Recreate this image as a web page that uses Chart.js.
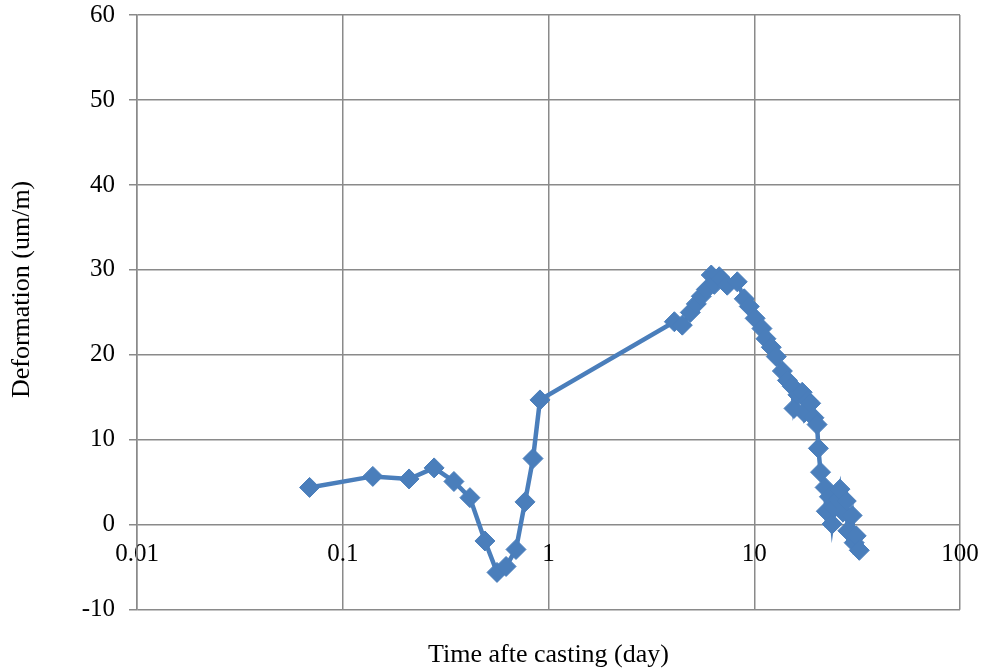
<!DOCTYPE html>
<html>
<head>
<meta charset="utf-8">
<script src="https://cdn.jsdelivr.net/npm/chart.js@4/dist/chart.umd.min.js"></script>
<style>
  html, body { margin: 0; padding: 0; background: #fff; }
  #wrap { width: 985px; height: 672px; }
</style>
</head>
<body>
<div id="wrap"><canvas id="chart" width="985" height="672"></canvas></div>
<script>
// Temps après coulage (jours) et déformation (um/m)
const days = [0.069, 0.140, 0.210, 0.278, 0.347, 0.415, 0.491, 0.562, 0.622, 0.695, 0.769, 0.841, 0.909,
  4.09, 4.47, 4.89, 5.23, 5.53, 5.85, 6.18, 6.40, 6.76, 6.92, 7.39, 8.27, 8.94, 9.46,
  10.1, 10.9, 11.4, 12.1, 12.8, 13.7, 14.5, 15.3, 15.6, 16.3, 17.1, 17.5, 18.2, 18.8, 19.5, 20.2,
  20.5, 21.0, 22.1, 22.4, 23.2, 23.9, 24.5, 25.5, 26.1, 27.0, 28.0, 28.5, 29.9, 30.6, 31.3, 32.4];
const deform = [4.4, 5.7, 5.4, 6.7, 5.1, 3.2, -1.9, -5.6, -4.9, -2.9, 2.7, 7.8, 14.7,
  23.9, 23.5, 25.0, 26.0, 26.9, 27.7, 29.4, 28.3, 29.2, 28.9, 28.2, 28.6, 26.6, 25.7,
  24.3, 23.1, 21.9, 20.9, 19.8, 18.1, 17.0, 16.3, 13.7, 15.3, 15.6, 13.2, 14.6, 14.3, 12.6, 11.8,
  9.0, 6.2, 4.4, 1.6, 3.3, 0.1, 2.0, 3.0, 4.2, 1.5, 2.8, -0.7, 1.1, -2.1, -1.3, -3.0];
const xTicks = [0.01, 0.1, 1, 10, 100];
const yMin = -10, yMax = 60, yStep = 10;

const BLUE = '#4a7ebb';
const GRID = '#8a8a8a';
const FONT = "'Liberation Serif', 'Times New Roman', serif";

const points = days.map((d, i) => ({ x: d, y: deform[i] }));

// pas de marge auto autour des axes, la zone de tracé est fixée par layout.padding
const noPad = s => { s.paddingTop = 0; s.paddingBottom = 0; s.paddingLeft = 0; s.paddingRight = 0; };

// titre de l'axe Y dessiné à la main (un peu au-dessus du centre, comme l'original)
const yTitle = {
  id: 'yTitle',
  afterDraw(chart) {
    const { ctx, chartArea } = chart;
    ctx.save();
    ctx.translate(22, (chartArea.top + chartArea.bottom) / 2 - 23);
    ctx.rotate(-Math.PI / 2);
    ctx.font = `26px ${FONT}`;
    ctx.fillStyle = '#000';
    ctx.textAlign = 'center';
    ctx.textBaseline = 'middle';
    ctx.fillText('Deformation (um/m)', 0, 0);
    ctx.restore();
  }
};

new Chart(document.getElementById('chart'), {
  type: 'line',
  data: {
    datasets: [{
      data: points,
      borderColor: BLUE,
      borderWidth: 4.5,
      backgroundColor: BLUE,
      pointStyle: 'rectRot',
      pointRadius: 10,
      pointBorderWidth: 1,
      pointBorderColor: BLUE,
      pointBackgroundColor: BLUE,
      tension: 0
    }]
  },
  options: {
    responsive: false,
    animation: false,
    layout: { padding: { top: 15, right: 25, bottom: 0, left: 0 } },
    plugins: {
      legend: { display: false },
      tooltip: { enabled: false }
    },
    scales: {
      x: {
        type: 'logarithmic',
        position: { y: 0 },
        min: 0.01,
        max: 100,
        afterBuildTicks: s => { s.ticks = xTicks.map(v => ({ value: v })); },
        afterFit: noPad,
        ticks: {
          color: '#000',
          font: { family: FONT, size: 25 },
          padding: 15,
          maxRotation: 0,
          autoSkip: false,
          callback: v => String(v)
        },
        grid: { color: GRID, lineWidth: 1.5, drawTicks: false },
        border: { display: false }
      },
      // axe bas uniquement pour le titre, centré sur la zone de tracé
      x2: {
        type: 'linear',
        axis: 'x',
        position: 'bottom',
        min: 0,
        max: 1,
        afterFit: noPad,
        ticks: { display: false },
        grid: { display: false, drawTicks: false },
        border: { display: false },
        title: {
          display: true,
          text: 'Time afte casting (day)',
          color: '#000',
          font: { family: FONT, size: 26 },
          padding: { top: 30, bottom: 1 }
        }
      },
      y: {
        min: yMin,
        max: yMax,
        ticks: {
          stepSize: yStep,
          color: '#000',
          font: { family: FONT, size: 25 },
          padding: 14
        },
        grid: { color: GRID, lineWidth: 1.5, tickLength: 8, tickColor: GRID },
        border: { color: GRID, width: 1.5 },
        afterFit: s => { noPad(s); s.width = 137; }
      }
    }
  },
  plugins: [yTitle]
});
</script>
</body>
</html>
